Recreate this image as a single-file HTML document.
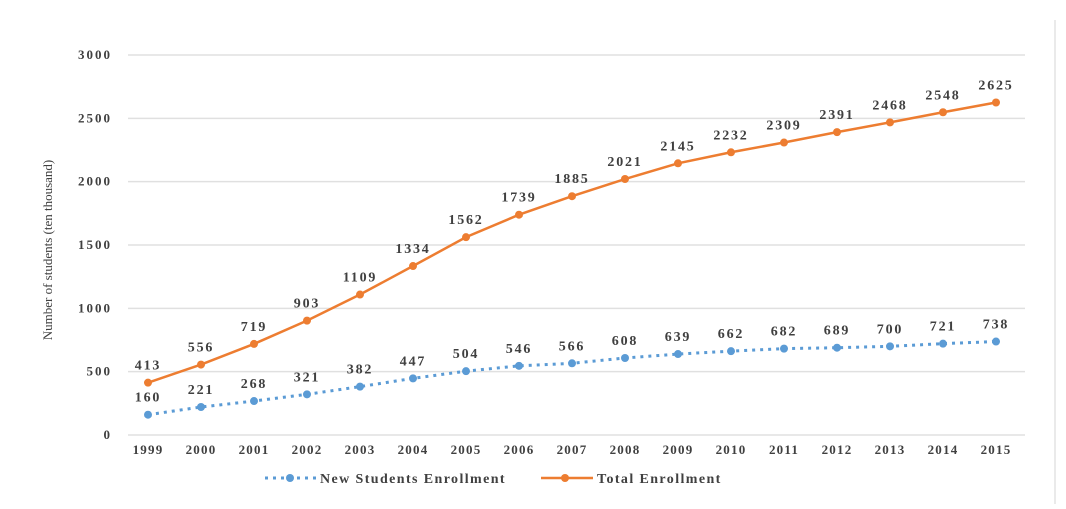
<!DOCTYPE html>
<html><head><meta charset="utf-8"><style>
body{margin:0;background:#fff}
text{font-family:"Liberation Serif",serif;font-weight:bold;fill:#404040}
</style></head><body>
<svg id="s" width="1066" height="504" xmlns="http://www.w3.org/2000/svg">
<line x1="1055" y1="20" x2="1055" y2="504" stroke="#e4e4e4" stroke-width="1.5"/>
<text x="0" y="0" transform="translate(52,250) rotate(-90)" text-anchor="middle" font-size="13" style="font-weight:normal">Number of students (ten thousand)</text>
<g id="g"></g>
<line x1="265" y1="478" x2="318" y2="478" stroke="#5b9bd5" stroke-width="3" stroke-dasharray="3,5"/>
<circle cx="290" cy="478" r="4" fill="#5b9bd5"/>
<text x="320" y="483" font-size="14" letter-spacing="1.4">New Students Enrollment</text>
<line x1="541" y1="478" x2="593" y2="478" stroke="#ed7d31" stroke-width="2.5"/>
<circle cx="565" cy="478" r="4" fill="#ed7d31"/>
<text x="597" y="483" font-size="14" letter-spacing="1.4">Total Enrollment</text>
</svg>
<script>
var g=document.getElementById('g'),h='';
function Y(v){return 435-v*380/3000}
function X(i){return 148+i*53}
for(var v=0;v<=3000;v+=500){h+='<line x1="128" x2="1025" y1="'+Y(v)+'" y2="'+Y(v)+'" stroke="#e0e0e0" stroke-width="1.5"/>';h+='<text x="112" y="'+(Y(v)+4)+'" text-anchor="end" font-size="13" letter-spacing="2">'+v+'</text>';}
var A=[160,221,268,321,382,447,504,546,566,608,639,662,682,689,700,721,738];
var B=[413,556,719,903,1109,1334,1562,1739,1885,2021,2145,2232,2309,2391,2468,2548,2625];
for(var i=0;i<17;i++)h+='<text x="'+X(i)+'" y="454" text-anchor="middle" font-size="13" letter-spacing="1.2">'+(1999+i)+'</text>';
var pa=A.map((v,i)=>X(i)+','+Y(v)).join(' '),pb=B.map((v,i)=>X(i)+','+Y(v)).join(' ');
h+='<polyline points="'+pa+'" fill="none" stroke="#5b9bd5" stroke-width="3" stroke-dasharray="3,5"/>';
h+='<polyline points="'+pb+'" fill="none" stroke="#ed7d31" stroke-width="2.5"/>';
for(i=0;i<17;i++){h+='<circle cx="'+X(i)+'" cy="'+Y(A[i])+'" r="4" fill="#5b9bd5"/><circle cx="'+X(i)+'" cy="'+Y(B[i])+'" r="4" fill="#ed7d31"/>';
h+='<text x="'+X(i)+'" y="'+(Y(A[i])-13)+'" text-anchor="middle" font-size="14" letter-spacing="1.8">'+A[i]+'</text>';
h+='<text x="'+X(i)+'" y="'+(Y(B[i])-13)+'" text-anchor="middle" font-size="14" letter-spacing="1.8">'+B[i]+'</text>';}
g.innerHTML=h;
</script>
</body></html>
